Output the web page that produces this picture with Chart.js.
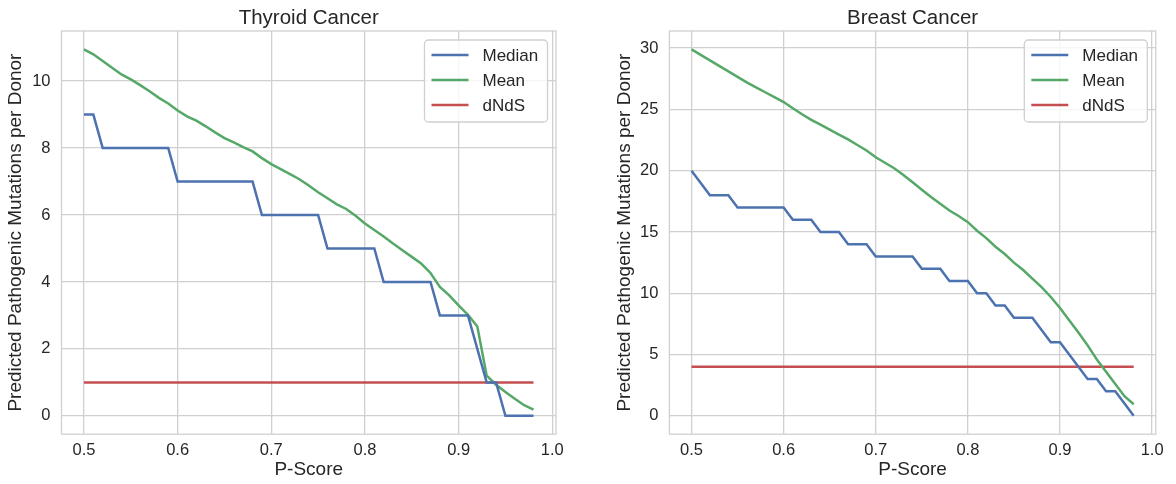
<!DOCTYPE html>
<html>
<head>
<meta charset="utf-8">
<script src="https://cdn.jsdelivr.net/npm/chart.js@4.4.0/dist/chart.umd.min.js"></script>
<style>
    html, body { margin: 0; padding: 0; background: #fff; }
    #wrap { position: relative; width: 1176px; height: 484px; }
    .box { position: absolute; top: 0; height: 484px; }
</style>
</head>
<body>
<div id="wrap">
    <div class="box" style="left:0;width:590px"><canvas id="thyroid" width="590" height="484"></canvas></div>
    <div class="box" style="left:590px;width:586px"><canvas id="breast" width="586" height="484"></canvas></div>
</div>
<script>
// P-Score values (x axis)
const pScore = [0.50, 0.51, 0.52, 0.53, 0.54, 0.55, 0.56, 0.57, 0.58, 0.59,
    0.60, 0.61, 0.62, 0.63, 0.64, 0.65, 0.66, 0.67, 0.68, 0.69,
    0.70, 0.71, 0.72, 0.73, 0.74, 0.75, 0.76, 0.77, 0.78, 0.79,
    0.80, 0.81, 0.82, 0.83, 0.84, 0.85, 0.86, 0.87, 0.88, 0.89,
    0.90, 0.91, 0.92, 0.93, 0.94, 0.95, 0.96, 0.97, 0.98];

// Thyroid Cancer
const thyroidMedian = [9, 9, 8, 8, 8, 8, 8, 8, 8, 8,
    7, 7, 7, 7, 7, 7, 7, 7, 7, 6,
    6, 6, 6, 6, 6, 6, 5, 5, 5, 5,
    5, 5, 4, 4, 4, 4, 4, 4, 3, 3,
    3, 3, 2, 1, 1, 0, 0, 0, 0];
const thyroidMean = [10.95, 10.8, 10.6, 10.4, 10.2, 10.05, 9.88, 9.7, 9.5, 9.33,
    9.12, 8.95, 8.82, 8.65, 8.47, 8.3, 8.17, 8.03, 7.9, 7.7,
    7.52, 7.37, 7.22, 7.07, 6.88, 6.68, 6.5, 6.32, 6.18, 5.98,
    5.75, 5.55, 5.36, 5.15, 4.95, 4.75, 4.55, 4.27, 3.85, 3.6,
    3.3, 3.02, 2.67, 1.2, 0.93, 0.71, 0.51, 0.32, 0.19];
const thyroidDnds = 1;

// Breast Cancer
const breastMedian = [20, 19, 18, 18, 18, 17, 17, 17, 17, 17,
    17, 16, 16, 16, 15, 15, 15, 14, 14, 14,
    13, 13, 13, 13, 13, 12, 12, 12, 11, 11,
    11, 10, 10, 9, 9, 8, 8, 8, 7, 6,
    6, 5, 4, 3, 3, 2, 2, 1, 0];
const breastMean = [29.9, 29.45, 29.0, 28.55, 28.1, 27.65, 27.2, 26.8, 26.4, 26.0,
    25.6, 25.1, 24.6, 24.15, 23.75, 23.35, 22.95, 22.55, 22.1, 21.65,
    21.1, 20.65, 20.2, 19.65, 19.05, 18.45, 17.85, 17.3, 16.75, 16.3,
    15.8, 15.1, 14.5, 13.8, 13.2, 12.5, 11.9, 11.2, 10.5, 9.7,
    8.8, 7.8, 6.8, 5.75, 4.6, 3.6, 2.6, 1.6, 0.95];
const breastDnds = 4;

// tick labels
const xTicks = [0.5, 0.6, 0.7, 0.8, 0.9, 1.0];
const thyroidYTicks = [0, 2, 4, 6, 8, 10];
const breastYTicks = [0, 5, 10, 15, 20, 25, 30];

const seriesNames = ["Median", "Mean", "dNdS"];
const colors = ["#4C72B0", "#55A868", "#C44E52"];
const TEXT = "#262626";
const GRID = "#d0d0d0";

Chart.defaults.font.family = '"Liberation Sans", Arial, sans-serif';
Chart.defaults.color = TEXT;

const frameTitleLegend = {
    id: "frameTitleLegend",
    beforeDatasetsDraw(chart) {
        const a = chart.chartArea, ctx = chart.ctx;
        ctx.save();
        ctx.strokeStyle = GRID;
        ctx.lineWidth = 1.3;
        ctx.strokeRect(a.left, a.top, a.right - a.left, a.bottom - a.top);
        ctx.restore();
    },
    afterDraw(chart, args, opts) {
        const a = chart.chartArea, ctx = chart.ctx;
        ctx.save();
        // title
        ctx.fillStyle = TEXT;
        ctx.font = '20.5px "Liberation Sans", Arial, sans-serif';
        ctx.textAlign = "center";
        ctx.textBaseline = "alphabetic";
        ctx.fillText(opts.title, (a.left + a.right) / 2, 24);
        // legend
        const w = 123, h = 82;
        const x = a.right - 8.5 - w, y = a.top + 9;
        ctx.beginPath();
        ctx.roundRect(x, y, w, h, 4);
        ctx.fillStyle = "rgba(255,255,255,0.8)";
        ctx.fill();
        ctx.strokeStyle = GRID;
        ctx.lineWidth = 1.3;
        ctx.stroke();
        ctx.font = '17px "Liberation Sans", Arial, sans-serif';
        ctx.textAlign = "left";
        ctx.textBaseline = "middle";
        chart.data.datasets.forEach((ds, i) => {
            const cy = y + 15 + i * 25;
            ctx.strokeStyle = ds.borderColor;
            ctx.lineWidth = ds.borderWidth;
            ctx.beginPath();
            ctx.moveTo(x + 7, cy);
            ctx.lineTo(x + 44, cy);
            ctx.stroke();
            ctx.fillStyle = TEXT;
            ctx.fillText(ds.label, x + 58, cy + 1);
        });
        ctx.restore();
    }
};

function makeChart(id, title, median, mean, dnds, yTicks, yMin, yMax, yAxisWidth, yTitlePad, rightPad) {
    const series = [median, mean, pScore.map(() => dnds)];
    return new Chart(document.getElementById(id), {
        type: "line",
        data: {
            datasets: series.map((vals, i) => ({
                label: seriesNames[i],
                data: pScore.map((p, j) => ({ x: p, y: vals[j] })),
                borderColor: colors[i],
                backgroundColor: colors[i],
                borderWidth: 2.5,
                pointRadius: 0,
                tension: 0,
                fill: false
            }))
        },
        options: {
            responsive: false,
            animation: false,
            devicePixelRatio: 1,
            layout: { padding: { top: 31, right: rightPad, left: 0, bottom: 0 } },
            plugins: {
                legend: { display: false },
                tooltip: { enabled: false },
                frameTitleLegend: { title: title }
            },
            scales: {
                x: {
                    type: "linear",
                    min: 0.476,
                    max: 1.004,
                    afterBuildTicks: s => { s.ticks = xTicks.map(v => ({ value: v })); },
                    afterFit: s => { s.height = 49.8; },
                    grid: { color: GRID, lineWidth: 1.3, drawTicks: false },
                    border: { display: false },
                    ticks: { padding: 6, font: { size: 16.5 }, color: TEXT, callback: v => v.toFixed(1) },
                    title: { display: true, text: "P-Score", font: { size: 19 }, color: TEXT, padding: { top: 0, bottom: 2.6 } }
                },
                y: {
                    type: "linear",
                    min: yMin,
                    max: yMax,
                    afterBuildTicks: s => { s.ticks = yTicks.map(v => ({ value: v })); },
                    afterFit: s => { s.width = yAxisWidth; },
                    grid: { color: GRID, lineWidth: 1.3, drawTicks: false },
                    border: { display: false },
                    ticks: { padding: 11, font: { size: 16.5 }, color: TEXT },
                    title: { display: true, text: "Predicted Pathogenic Mutations per Donor", font: { size: 19 }, color: TEXT, padding: { top: yTitlePad, bottom: 0 } }
                }
            }
        },
        plugins: [frameTitleLegend]
    });
}

onload = () => {
    makeChart("thyroid", "Thyroid Cancer", thyroidMedian, thyroidMean, thyroidDnds,
        thyroidYTicks, -0.5475, 11.4975, 61.5, 4.6, 34);
    makeChart("breast", "Breast Cancer", breastMedian, breastMean, breastDnds,
        breastYTicks, -1.495, 31.395, 79.4, 23.6, 20.2);
};
</script>
</body>
</html>
